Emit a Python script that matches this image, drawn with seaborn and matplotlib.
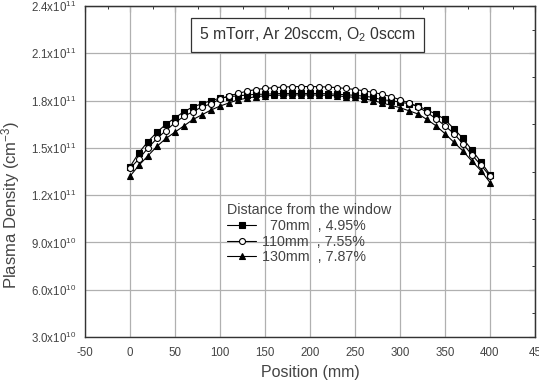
import numpy as np
import pandas as pd
import matplotlib
matplotlib.use("Agg")
import matplotlib.pyplot as plt
from matplotlib.ticker import MultipleLocator
import seaborn as sns

# ---- data (density in units of 1e11 cm^-3) ----
position = list(range(0, 410, 10))
d70 = [1.38, 1.47, 1.54, 1.60, 1.65, 1.69, 1.73, 1.76, 1.78, 1.80,
       1.815, 1.825, 1.83, 1.835, 1.84, 1.84, 1.843, 1.845, 1.845, 1.845,
       1.845, 1.845, 1.843, 1.84, 1.837, 1.833, 1.828, 1.82, 1.805, 1.80,
       1.79, 1.78, 1.765, 1.74, 1.715, 1.68, 1.62, 1.56, 1.485, 1.41, 1.33]
d110 = [1.37, 1.43, 1.50, 1.56, 1.61, 1.66, 1.70, 1.73, 1.76, 1.78,
        1.81, 1.83, 1.845, 1.86, 1.87, 1.877, 1.882, 1.886, 1.888, 1.889,
        1.889, 1.888, 1.886, 1.882, 1.877, 1.87, 1.862, 1.852, 1.84, 1.825,
        1.805, 1.785, 1.76, 1.725, 1.685, 1.64, 1.59, 1.525, 1.455, 1.39, 1.32]
d130 = [1.32, 1.39, 1.45, 1.51, 1.56, 1.60, 1.64, 1.68, 1.71, 1.74,
        1.765, 1.785, 1.805, 1.815, 1.825, 1.83, 1.833, 1.835, 1.836, 1.836,
        1.836, 1.835, 1.833, 1.83, 1.825, 1.82, 1.812, 1.80, 1.785, 1.77,
        1.755, 1.735, 1.715, 1.68, 1.64, 1.59, 1.535, 1.48, 1.415, 1.355, 1.28]
series_labels = ["  70mm  , 4.95%", "110mm  , 7.55%", "130mm  , 7.87%"]
legend_title = "Distance from the window"
x_ticks = [-50, 0, 50, 100, 150, 200, 250, 300, 350, 400, 450]
x_tick_labels = ["-50", "0", "50", "100", "150", "200", "250", "300", "350", "400", "45"]
y_ticks = [0.3, 0.6, 0.9, 1.2, 1.5, 1.8, 2.1, 2.4]
y_tick_labels = ["3.0x10$^{10}$", "6.0x10$^{10}$", "9.0x10$^{10}$", "1.2x10$^{11}$",
                 "1.5x10$^{11}$", "1.8x10$^{11}$", "2.1x10$^{11}$", "2.4x10$^{11}$"]

sns.set_style("white")
plt.rcParams["font.family"] = ["Liberation Sans", "DejaVu Sans"]
plt.rcParams["mathtext.fontset"] = "custom"
plt.rcParams["mathtext.rm"] = "Liberation Sans"
plt.rcParams["mathtext.it"] = "Liberation Sans"

TXT = "#444444"
fig = plt.figure(figsize=(5.39, 3.84), dpi=100)
ax = fig.add_axes([85/539, 1-337/384, 450/539, 331/384])

styles = [dict(marker="s", mfc="black"),
          dict(marker="o", mfc="white"),
          dict(marker="^", mfc="black")]
handles = []
for vals, lab, st in zip([d70, d110, d130], series_labels, styles):
    df = pd.DataFrame({"pos": position, "dens": vals})
    sns.lineplot(data=df, x="pos", y="dens", ax=ax, color="black", lw=0.8,
                 marker=st["marker"], markersize=4.3, markerfacecolor=st["mfc"],
                 markeredgecolor="black", markeredgewidth=0.8, zorder=3)
    handles.append(ax.lines[-1])

ax.set_xlim(-50, 450)
ax.set_ylim(0.3, 2.4)
ax.set_xticks(x_ticks)
ax.set_xticklabels(x_tick_labels)
ax.set_yticks(y_ticks)
ax.set_yticklabels(y_tick_labels)
ax.xaxis.set_minor_locator(MultipleLocator(25))
ax.yaxis.set_minor_locator(MultipleLocator(0.15))
ax.grid(True, which="major", color="#b0b0b0", lw=0.9)
ax.tick_params(axis="both", which="major", direction="out", length=4, width=0.8,
               labelsize=8.3, colors="#333333", labelcolor=TXT)
ax.tick_params(axis="both", which="minor", direction="out", length=2.5, width=0.7,
               colors="#333333")
ax.tick_params(axis="y", which="major", pad=2)
for s in ax.spines.values():
    s.set_color("#333333")
    s.set_linewidth(1.0)

# inward ticks on the top and right edges
top = ax.secondary_xaxis("top")
top.set_xticks(x_ticks)
top.xaxis.set_minor_locator(MultipleLocator(25))
top.tick_params(which="major", direction="in", length=4, width=0.8, colors="#333333",
                labeltop=False)
top.tick_params(which="minor", direction="in", length=2.5, width=0.7, colors="#333333")
right = ax.secondary_yaxis("right")
right.set_yticks(y_ticks)
right.yaxis.set_minor_locator(MultipleLocator(0.15))
right.tick_params(which="major", direction="in", length=4, width=0.8, colors="#333333",
                  labelright=False)
right.tick_params(which="minor", direction="in", length=2.5, width=0.7, colors="#333333")

ax.set_xlabel("Position (mm)", fontsize=11.5, color=TXT, labelpad=4)
ax.set_ylabel("Plasma Density (cm$^{-3}$)", fontsize=12, color=TXT)
ax.yaxis.set_label_coords(-0.14, 0.40)

ax.text(0.494, 0.912, "5 mTorr, Ar 20sccm, O$_2$ 0sccm", transform=ax.transAxes,
        ha="center", va="center", fontsize=11.3, color="#333333",
        bbox=dict(boxstyle="square,pad=0.5", fc="white", ec="#333333", lw=0.9))

leg = ax.legend(handles, series_labels, title=legend_title, frameon=False,
                loc="upper left", bbox_to_anchor=(0.297, 0.43), fontsize=10.3,
                title_fontsize=10.3, handlelength=2.0, handletextpad=0.4,
                labelspacing=0.12, borderpad=0.1)
leg._legend_box.align = "left"
for t in leg.get_texts():
    t.set_color(TXT)
leg.get_title().set_color(TXT)

fig.savefig("out.png", dpi=100)
